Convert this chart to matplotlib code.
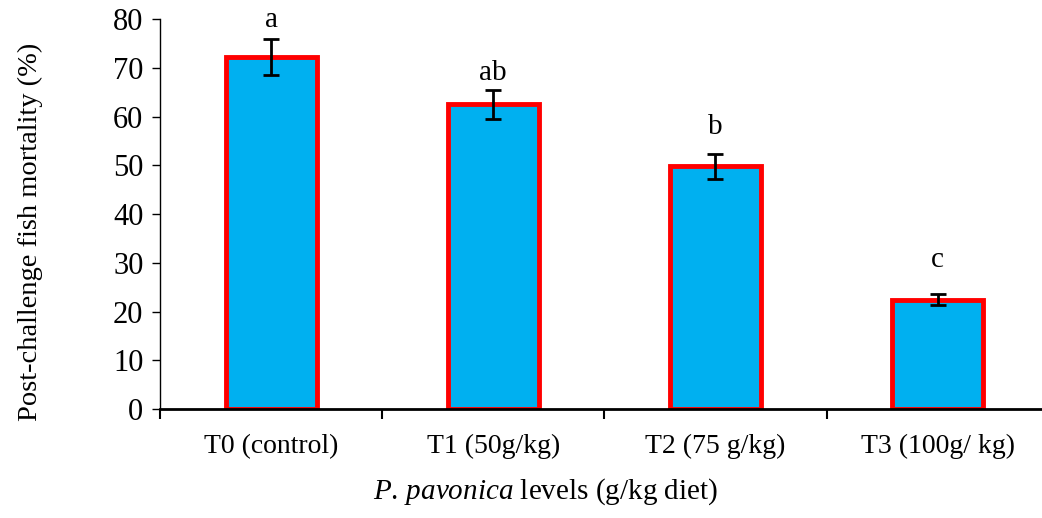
import matplotlib
matplotlib.use("Agg")
import matplotlib.pyplot as plt

categories = ["T0 (control)", "T1 (50g/kg)", "T2 (75 g/kg)", "T3 (100g/ kg)"]
mortality = [72.2, 62.5, 49.8, 22.4]
errors = [3.6, 3.0, 2.6, 1.1]
letters = ["a", "ab", "b", "c"]
letter_pos = [79.8, 69.0, 57.8, 30.5]

plt.rcParams["font.family"] = "Liberation Serif"
plt.rcParams["mathtext.fontset"] = "custom"
plt.rcParams["mathtext.it"] = "Liberation Serif:italic"
plt.rcParams["mathtext.rm"] = "Liberation Serif"

fig = plt.figure(figsize=(10.42, 5.18), dpi=100)
ax = fig.add_axes([0.1536, 0.2104, 0.8464, 0.7529])

x = range(len(categories))
ax.bar(x, mortality, width=0.41, color="#00B0F0", edgecolor="#FF0000", linewidth=3.5, zorder=2)
ax.errorbar(x, mortality, yerr=errors, fmt="none", ecolor="black", elinewidth=2,
            capsize=6, capthick=2, zorder=3)
for i, t in enumerate(letters):
    ax.text(i, letter_pos[i], t, ha="center", va="center", fontsize=21)

ax.set_ylim(0, 80)
ax.set_xlim(-0.5, 3.47)
ax.set_yticks(range(0, 81, 10))
ax.set_xticks(list(x))
ax.set_xticklabels(categories, fontsize=20)
ax.set_xticks([-0.5, 0.5, 1.5, 2.5], minor=True)
ax.tick_params(axis="x", which="major", length=0, pad=18)
ax.tick_params(axis="x", which="minor", length=7, width=1.5, direction="out")
ax.tick_params(axis="y", length=6, width=1, direction="out", labelsize=22, pad=6)

for s in ["top", "right"]:
    ax.spines[s].set_visible(False)
ax.spines["bottom"].set_linewidth(2)
ax.spines["left"].set_linewidth(1)

ax.set_ylabel("Post-challenge fish mortality (%)", fontsize=20.5)
ax.yaxis.set_label_coords(-0.147, 0.454)
ax.set_xlabel(r"$\mathit{P.\,pavonica}$ levels (g/kg diet)", fontsize=21)
ax.xaxis.set_label_coords(0.437, -0.213)
ax.xaxis.label.set_va("center")
ax.yaxis.label.set_va("center")

fig.savefig("out.png", dpi=100)
